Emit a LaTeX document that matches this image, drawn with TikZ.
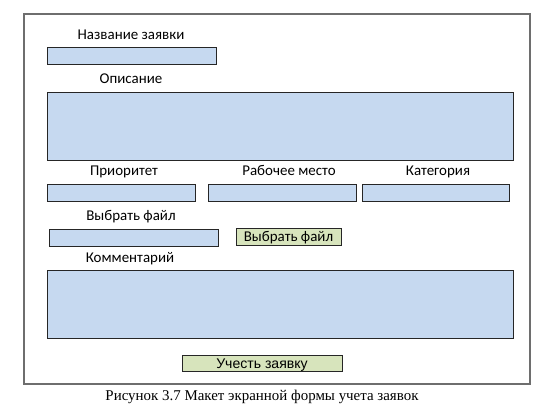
\documentclass[tikz,border=0pt]{standalone}
\usepackage{fontspec}
\setmainfont{Liberation Serif}
\newfontfamily\formfont{Carlito}
\newfontfamily\btnfont{Liberation Sans}
\usetikzlibrary{positioning}
\definecolor{fieldblue}{HTML}{C6D9F0}
\definecolor{btngreen}{HTML}{D7E4BC}
\definecolor{framegray}{HTML}{6E6E6E}

\begin{document}
\begin{tikzpicture}[x=0.02cm, y=-0.02cm,
					field/.style={rectangle, draw=black!85, fill=fieldblue, inner sep=0pt, minimum height=0.34cm},
					button/.style={rectangle, draw=black!85, fill=btngreen, inner sep=0pt, minimum height=0.33cm, text height=1.5ex, text depth=.35ex},
					caption/.style={font=\formfont\fontsize{8.5}{10}\selectfont, inner sep=0pt, text height=1.5ex, text depth=.35ex},
					]
					\useasboundingbox (0,0) rectangle (550,410);
					%Frame
					\draw[framegray, line width=0.9pt] (24,14) rectangle (530,384);

					%Labels
					\node[caption]      (lname) 	at 	(131,35)        {Название заявки};
					\node[caption]      (ldesc) 	at 	(131,79)        {Описание};
					\node[caption]      (lprio) 	at 	(124,171)       {Приоритет};
					\node[caption]      (lplace) 	at 	(289,171)       {Рабочее место};
					\node[caption]      (lcat) 	at 	(438,171)       {Категория};
					\node[caption]      (lfile) 	at 	(131,216)       {Выбрать файл};
					\node[caption]      (lcomm) 	at 	(130,258)       {Комментарий};

					%Fields
					\node[field, minimum width=3.38cm]      (fname) 	at 	(131.5,55.5)    {};
					\node[field, minimum width=9.32cm, minimum height=1.36cm]      (fdesc) 	at 	(280,126)    {};
					\node[field, minimum width=2.96cm]      (fprio) 	at 	(121,192.5)     {};
					\node[field, minimum width=2.96cm]      (fplace) 	at 	(282,192.5)     {};
					\node[field, minimum width=2.94cm]      (fcat) 	at 	(435.5,192.5)   {};
					\node[field, minimum width=3.38cm]      (ffile) 	at 	(133.5,237.5)   {};
					\node[field, minimum width=9.32cm, minimum height=1.36cm]      (fcomm) 	at 	(280,304)    {};

					%Buttons
					\node[button, minimum width=2.1cm, font=\formfont\fontsize{8.5}{10}\selectfont]      (bfile) 	at 	(288.5,237)   {Выбрать файл};
					\node[button, minimum width=3.2cm, font=\btnfont\fontsize{8}{10}\selectfont]      (bsubmit) 	at 	(262,363.5)   {Учесть заявку};

					%Caption
					\node[inner sep=0pt, font=\fontsize{8.5}{10}\selectfont]      (title) 	at 	(262,397)   {Рисунок 3.7 Макет экранной формы учета заявок};
				\end{tikzpicture}
\end{document}
